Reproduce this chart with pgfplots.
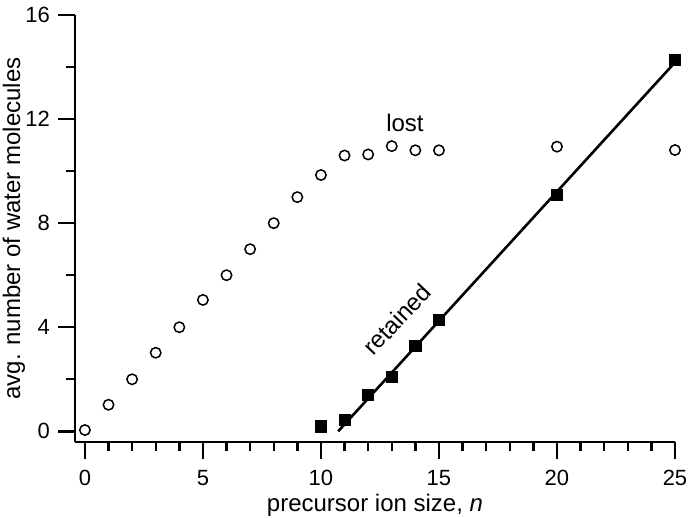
\documentclass[border=0pt]{standalone}
\usepackage{pgfplots}
\pgfplotsset{compat=1.18}
\usepackage{fontspec}
\setmainfont{Liberation Sans}
\begin{document}
\begin{tikzpicture}
\begin{axis}[
 name=ax,
 scale only axis, width=300pt, height=213.5pt,
 xmin=-0.42, xmax=25, ymin=-0.41, ymax=16,
 axis x line*=bottom, axis y line*=left,
 axis line style={line width=1.3pt},
 xtick={0,5,...,25}, minor xtick={1,2,3,4,6,7,8,9,11,12,13,14,16,17,18,19,21,22,23,24},
 ytick={0,4,...,16}, minor ytick={2,6,10,14},
 tick align=outside, major tick length=8.5pt, minor tick length=4.7pt,
 every tick/.style={line width=1.2pt, black},
 /pgf/number format/assume math mode=true,
 ticklabel style={font=\fontsize{11}{13}\selectfont},
 xticklabel style={yshift=-2pt},
 yticklabel style={xshift=-0.5pt},
 xlabel={precursor ion size, \textit{n}},
 ylabel={avg. number of water molecules},
 label style={font=\fontsize{12}{14}\selectfont},
 xlabel style={at={(axis description cs:0.5,-0.1475)}, anchor=center},
 ylabel style={at={(axis description cs:-0.1017,0.5)}, anchor=center},
 clip=false,
]
\addplot[only marks, mark=o, mark size=2.6pt, mark options={line width=0.75pt, black}] coordinates {
(0,0.05) (1,1.02) (2,2.0) (3,3.02) (4,4.0) (5,5.05) (6,6.0) (7,7.0) (8,8.0) (9,9.0) (10,9.85) (11,10.6) (12,10.64) (13,10.96) (14,10.8) (15,10.8) (20,10.94) (25,10.81)
};
\addplot[only marks, mark=square*, mark size=2.8pt, black] coordinates {
(10,0.19) (11,0.45) (12,1.41) (13,2.08) (14,3.27) (15,4.27) (20,9.1) (25,14.26)
};
\addplot[black, line width=1.3pt] coordinates {(10.73,0) (25,14.18)};
\node[font=\fontsize{12}{14}\selectfont] at (axis cs:13.56,11.87) {lost};
\node[font=\fontsize{12}{14}\selectfont, rotate=46.5] at (axis cs:13.22,4.3) {retained};
\end{axis}
\pgfresetboundingbox
\path ([shift={(-37.5pt,-38pt)}]ax.south west) rectangle ([shift={(9pt,7.5pt)}]ax.north east);
\end{tikzpicture}
\end{document}
